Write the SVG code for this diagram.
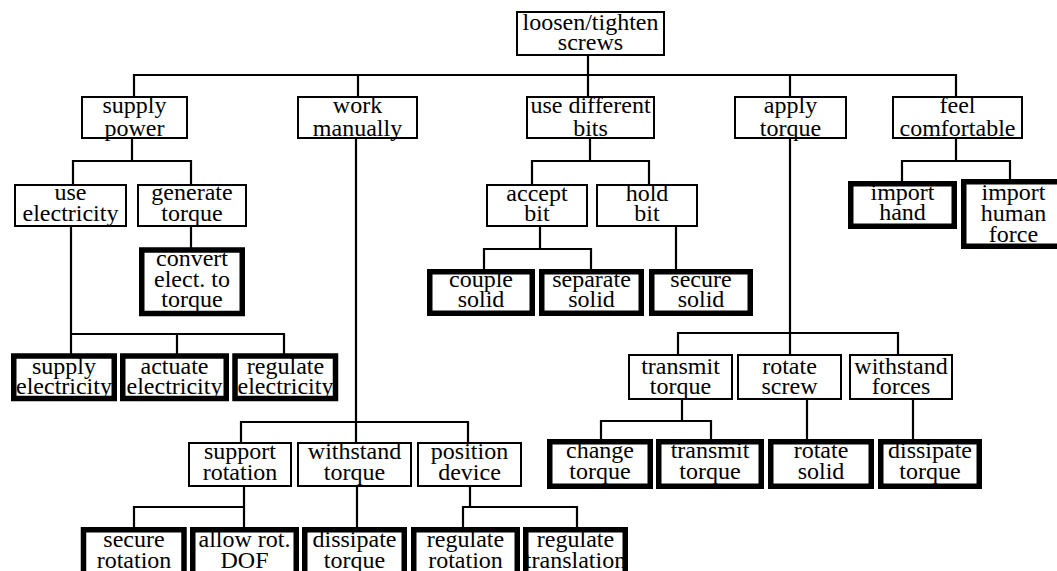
<svg xmlns="http://www.w3.org/2000/svg" width="1057" height="571" viewBox="0 0 1057 571">
  <style>
    .bg { fill: #ffffff; }
    .node rect { fill: #ffffff; stroke: #000000; stroke-width: 2; }
    .leaf rect { stroke-width: 5.5; }
    .node text { font-family: "Liberation Serif", "Times New Roman", serif; font-size: 24px; text-anchor: middle; fill: #000000; }
    .links path { fill: none; stroke: #000000; stroke-width: 2.2; stroke-linecap: square; }
  </style>
  <rect class="bg" x="0" y="0" width="1057" height="571"/>

  <!-- connectors: vertical drops and horizontal bus bars -->
  <g id="connectors" class="links">
    <path d="M588,56 V75 M134,75 H956 M134,75 V96 M358,75 V96 M588,75 V96 M790,75 V96 M956,75 V96"/>
    <!-- supply power branch -->
    <path d="M132,139 V161 M73,161 H191 M73,161 V184 M191,161 V184"/>
    <path d="M71,227 V334 M71,334 H284 M71,334 V353 M177,334 V353 M284,334 V353"/>
    <path d="M191,227 V248"/>
    <!-- use different bits branch -->
    <path d="M590,139 V161 M532,161 H649 M532,161 V184 M649,161 V184"/>
    <path d="M540,227 V249 M484,249 H591 M484,249 V269 M591,249 V269"/>
    <path d="M676,227 V269"/>
    <!-- feel comfortable branch -->
    <path d="M956,139 V161 M902,161 H1010 M902,161 V181 M1010,161 V181"/>
    <!-- apply torque branch -->
    <path d="M790,139 V333 M678,333 H898 M678,333 V354 M790,333 V354 M898,333 V354"/>
    <path d="M682,400 V421 M601,421 H711 M601,421 V439 M711,421 V439"/>
    <path d="M807,400 V439 M913,400 V439"/>
    <!-- work manually branch -->
    <path d="M356,139 V422 M241,422 H468 M241,422 V442 M356,422 V442 M468,422 V442"/>
    <path d="M244,487 V507 M134,507 H244 M134,507 V527 M244,507 V527"/>
    <path d="M357,487 V527"/>
    <path d="M470,487 V507 M463,507 H577 M463,507 V527 M577,507 V527"/>
  </g>

  <!-- root -->
  <g id="loosen-tighten-screws" class="node">
    <rect x="517" y="12" width="147" height="43"/>
    <text x="590.5" y="30">loosen/tighten</text>
    <text x="590.5" y="50">screws</text>
  </g>

  <!-- first level -->
  <g id="supply-power" class="node">
    <rect x="82" y="97" width="105" height="41"/>
    <text x="134.5" y="113">supply</text>
    <text x="134.5" y="136">power</text>
  </g>
  <g id="work-manually" class="node">
    <rect x="298" y="97" width="119" height="41"/>
    <text x="357.5" y="113">work</text>
    <text x="357.5" y="136">manually</text>
  </g>
  <g id="use-different-bits" class="node">
    <rect x="527" y="97" width="127" height="41"/>
    <text x="590.5" y="113">use different</text>
    <text x="590.5" y="136">bits</text>
  </g>
  <g id="apply-torque" class="node">
    <rect x="735" y="97" width="111" height="41"/>
    <text x="790.5" y="113">apply</text>
    <text x="790.5" y="136">torque</text>
  </g>
  <g id="feel-comfortable" class="node">
    <rect x="893" y="97" width="129" height="41"/>
    <text x="957.5" y="113">feel</text>
    <text x="957.5" y="136">comfortable</text>
  </g>

  <!-- supply power subtree -->
  <g id="use-electricity" class="node">
    <rect x="15" y="185" width="111" height="41"/>
    <text x="70.5" y="200">use</text>
    <text x="70.5" y="221">electricity</text>
  </g>
  <g id="generate-torque" class="node">
    <rect x="138" y="185" width="108" height="41"/>
    <text x="192" y="200">generate</text>
    <text x="192" y="221">torque</text>
  </g>
  <g id="convert-elect-to-torque" class="node leaf">
    <rect x="141.75" y="250" width="100.5" height="63.5"/>
    <text x="192" y="266">convert</text>
    <text x="192" y="287">elect. to</text>
    <text x="192" y="307">torque</text>
  </g>
  <g id="supply-electricity" class="node leaf">
    <rect x="13.75" y="356" width="100.5" height="42.5"/>
    <text x="64" y="374">supply</text>
    <text x="64" y="393.5">electricity</text>
  </g>
  <g id="actuate-electricity" class="node leaf">
    <rect x="122.75" y="356" width="103.5" height="42.5"/>
    <text x="174.5" y="374">actuate</text>
    <text x="174.5" y="393.5">electricity</text>
  </g>
  <g id="regulate-electricity" class="node leaf">
    <rect x="235" y="356" width="100.5" height="42.5"/>
    <text x="285.5" y="374">regulate</text>
    <text x="285.5" y="393.5">electricity</text>
  </g>

  <!-- use different bits subtree -->
  <g id="accept-bit" class="node">
    <rect x="487" y="185" width="100" height="41"/>
    <text x="537" y="201">accept</text>
    <text x="537" y="221">bit</text>
  </g>
  <g id="hold-bit" class="node">
    <rect x="597" y="185" width="100" height="41"/>
    <text x="647" y="201">hold</text>
    <text x="647" y="221">bit</text>
  </g>
  <g id="couple-solid" class="node leaf">
    <rect x="429.75" y="271.75" width="102.5" height="41.5"/>
    <text x="481" y="286.5">couple</text>
    <text x="481" y="307">solid</text>
  </g>
  <g id="separate-solid" class="node leaf">
    <rect x="541.75" y="271.75" width="99.5" height="41.5"/>
    <text x="591.5" y="286.5">separate</text>
    <text x="591.5" y="307">solid</text>
  </g>
  <g id="secure-solid" class="node leaf">
    <rect x="651.75" y="271.75" width="98.5" height="41.5"/>
    <text x="701" y="286.5">secure</text>
    <text x="701" y="307">solid</text>
  </g>

  <!-- feel comfortable subtree -->
  <g id="import-hand" class="node leaf">
    <rect x="850.75" y="183.75" width="103.5" height="42.5"/>
    <text x="902.5" y="200">import</text>
    <text x="902.5" y="220">hand</text>
  </g>
  <g id="import-human-force" class="node leaf">
    <rect x="963.75" y="181.75" width="102.5" height="64.5"/>
    <text x="1013.5" y="200">import</text>
    <text x="1013.5" y="221">human</text>
    <text x="1013.5" y="242">force</text>
  </g>

  <!-- apply torque subtree -->
  <g id="transmit-torque-fn" class="node">
    <rect x="629" y="355" width="103" height="44"/>
    <text x="680.5" y="374">transmit</text>
    <text x="680.5" y="394">torque</text>
  </g>
  <g id="rotate-screw" class="node">
    <rect x="738" y="355" width="103" height="44"/>
    <text x="789.5" y="374">rotate</text>
    <text x="789.5" y="394">screw</text>
  </g>
  <g id="withstand-forces" class="node">
    <rect x="850" y="355" width="102" height="44"/>
    <text x="901" y="374">withstand</text>
    <text x="901" y="394">forces</text>
  </g>
  <g id="change-torque" class="node leaf">
    <rect x="549.75" y="441.75" width="100.5" height="44.5"/>
    <text x="600" y="457.5">change</text>
    <text x="600" y="479">torque</text>
  </g>
  <g id="transmit-torque" class="node leaf">
    <rect x="658.75" y="441.75" width="102.5" height="44.5"/>
    <text x="710" y="457.5">transmit</text>
    <text x="710" y="479">torque</text>
  </g>
  <g id="rotate-solid" class="node leaf">
    <rect x="770.75" y="441.75" width="100.5" height="44.5"/>
    <text x="821" y="457.5">rotate</text>
    <text x="821" y="479">solid</text>
  </g>
  <g id="dissipate-torque-forces" class="node leaf">
    <rect x="880.75" y="441.75" width="98.5" height="44.5"/>
    <text x="930" y="457.5">dissipate</text>
    <text x="930" y="479">torque</text>
  </g>

  <!-- work manually subtree -->
  <g id="support-rotation" class="node">
    <rect x="189" y="443" width="102" height="43"/>
    <text x="240" y="459">support</text>
    <text x="240" y="480">rotation</text>
  </g>
  <g id="withstand-torque" class="node">
    <rect x="298" y="443" width="113" height="43"/>
    <text x="354.5" y="459">withstand</text>
    <text x="354.5" y="480">torque</text>
  </g>
  <g id="position-device" class="node">
    <rect x="418" y="443" width="103" height="43"/>
    <text x="469.5" y="459">position</text>
    <text x="469.5" y="480">device</text>
  </g>
  <g id="secure-rotation" class="node leaf">
    <rect x="83.5" y="529.75" width="100.5" height="50"/>
    <text x="134" y="547">secure</text>
    <text x="134" y="568">rotation</text>
  </g>
  <g id="allow-rot-dof" class="node leaf">
    <rect x="192.75" y="529.75" width="103.5" height="50"/>
    <text x="244.5" y="547">allow rot.</text>
    <text x="244.5" y="568">DOF</text>
  </g>
  <g id="dissipate-torque-manual" class="node leaf">
    <rect x="304.75" y="529.75" width="99.5" height="50"/>
    <text x="354.5" y="547">dissipate</text>
    <text x="354.5" y="568">torque</text>
  </g>
  <g id="regulate-rotation" class="node leaf">
    <rect x="413.75" y="529.75" width="103.5" height="50"/>
    <text x="465.5" y="547">regulate</text>
    <text x="465.5" y="568">rotation</text>
  </g>
  <g id="regulate-translation" class="node leaf">
    <rect x="525.75" y="529.75" width="99.5" height="50"/>
    <text x="575.5" y="547">regulate</text>
    <text x="575.5" y="568">translation</text>
  </g>
</svg>
